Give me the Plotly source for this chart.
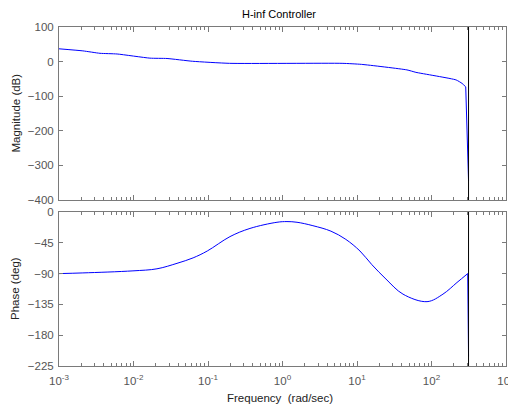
import plotly.graph_objects as go
from plotly.subplots import make_subplots

# ---- data ----
freq_mag = [0.001, 0.00209, 0.00355, 0.00603, 0.0166, 0.0282, 0.0617, 0.195,
            6.31, 11.5, 46.8, 61.7, 214.0, 257.0, 288.0, 314.16]
mag_db = [37, 31, 24, 22, 10, 9, 1, -5, -5, -8, -24, -31, -53, -63, -73, -345]

freq_ph = [0.001, 0.00209, 0.00984, 0.02065, 0.03837, 0.0631, 0.0977, 0.197,
           0.366, 0.843, 1.148, 1.567, 2.56, 4.47, 7.08, 10.96, 15.85, 24.5,
           41.4, 87.1, 142.6, 219.8, 306.2, 314.16]
phase_deg = [-90, -89, -86, -83, -75, -67, -57, -36, -24, -15, -14, -15, -20,
             -28, -40, -57, -77, -98, -120, -131, -120, -103, -90, -211]

nyquist_freq = 314.16
mag_range = [-400, 100]
phase_range = [-225, 0]

x_tickvals = [1e-3, 1e-2, 1e-1, 1e0, 1e1, 1e2, 1e3]
x_ticktext = ["10<sup>-3</sup>", "10<sup>-2</sup>", "10<sup>-1</sup>", "10<sup>0</sup>",
              "10<sup>1</sup>", "10<sup>2</sup>", "10<sup>3</sup>"]
mag_ticks = [100, 0, -100, -200, -300, -400]
phase_ticks = [0, -45, -90, -135, -180, -225]

minor_vals = [k * 10.0 ** e for e in range(-3, 3) for k in range(2, 10)]

FONT = "Liberation Sans, Arial, sans-serif"
TICKC = "#555555"
AXC = "#7a7a7a"
FS = 11.5

# the page body has an 8px default margin; the figure is sized so that it fills
# the 516x415 window from (8, 8)
OFF = 8
W, H = 516 - OFF, 415 - OFF
L, R, T, B = 59 - OFF, 10, 27 - OFF, 49
PW, PH = W - L - R, H - T - B   # 447 x 339

fig = make_subplots(rows=2, cols=1)

# magnitude: smooth part + final drop at Nyquist
fig.add_trace(go.Scatter(x=freq_mag[:-1], y=mag_db[:-1], mode="lines",
                         line=dict(color="#0000ff", width=1, shape="spline", smoothing=0.5),
                         showlegend=False), row=1, col=1)
fig.add_trace(go.Scatter(x=freq_mag[-2:], y=mag_db[-2:], mode="lines",
                         line=dict(color="#0000ff", width=1), showlegend=False), row=1, col=1)
fig.add_trace(go.Scatter(x=[nyquist_freq, nyquist_freq], y=mag_range, mode="lines",
                         line=dict(color="black", width=1), showlegend=False), row=1, col=1)

fig.add_trace(go.Scatter(x=freq_ph[:-1], y=phase_deg[:-1], mode="lines",
                         line=dict(color="#0000ff", width=1, shape="spline", smoothing=1.0),
                         showlegend=False), row=2, col=1)
fig.add_trace(go.Scatter(x=freq_ph[-2:], y=phase_deg[-2:], mode="lines",
                         line=dict(color="#0000ff", width=1), showlegend=False), row=2, col=1)
fig.add_trace(go.Scatter(x=[nyquist_freq, nyquist_freq], y=phase_range, mode="lines",
                         line=dict(color="black", width=1), showlegend=False), row=2, col=1)

xcommon = dict(type="log", range=[-3, 3], showgrid=False, zeroline=False,
               showline=True, linecolor=AXC, linewidth=1, mirror="ticks",
               ticks="inside", ticklen=5, tickcolor=AXC, automargin=False,
               tickmode="array", tickvals=x_tickvals, ticktext=x_ticktext,
               tickfont=dict(family=FONT, size=FS, color=TICKC),
               minor=dict(ticks="inside", ticklen=3, tickcolor=AXC,
                          tickmode="array", tickvals=minor_vals, showgrid=False))

fig.update_xaxes(**xcommon)
fig.update_xaxes(showticklabels=False, row=1, col=1)
fig.update_xaxes(ticklabelstandoff=4, row=2, col=1)

ycommon = dict(showgrid=False, zeroline=False, showline=True, linecolor=AXC,
               linewidth=1, mirror="ticks", ticks="inside", ticklen=4,
               tickcolor=AXC, tickfont=dict(family=FONT, size=FS, color=TICKC),
               ticklabelstandoff=2, automargin=False)
fig.update_yaxes(**ycommon)
fig.update_yaxes(range=mag_range, tickmode="array", tickvals=mag_ticks,
                 domain=[1 - 173 / PH, 1.0], row=1, col=1)
fig.update_yaxes(range=phase_range, tickmode="array", tickvals=phase_ticks,
                 domain=[0.0, 1 - 185 / PH], row=2, col=1)

fig.update_layout(
    width=W, height=H,
    margin=dict(l=L, r=R, t=T, b=B, autoexpand=False),
    paper_bgcolor="white", plot_bgcolor="white",
    font=dict(family=FONT, size=FS, color="#222222"),
    title=dict(text="H-inf Controller", x=(279 - 59) / PW, xref="paper", xanchor="center",
               y=1 - (14 - OFF) / H, yref="container", yanchor="middle",
               font=dict(family=FONT, size=11, color="black")),
    annotations=[
        dict(text="Frequency&nbsp; (rad/sec)", xref="paper", yref="paper",
             x=(280 - 59) / PW, y=-(398 - 366) / PH, xanchor="center", yanchor="middle",
             showarrow=False, font=dict(family=FONT, size=FS, color="#222222")),
        dict(text="Magnitude (dB)", xref="paper", yref="paper",
             x=(15 - 59) / PW, y=1 - (113.5 - 27) / PH, textangle=-90,
             xanchor="center", yanchor="middle", showarrow=False,
             font=dict(family=FONT, size=FS, color="#222222")),
        dict(text="Phase (deg)", xref="paper", yref="paper",
             x=(15 - 59) / PW, y=1 - (289 - 27) / PH, textangle=-90,
             xanchor="center", yanchor="middle", showarrow=False,
             font=dict(family=FONT, size=FS, color="#222222")),
    ],
)

fig.write_html("out.html")
